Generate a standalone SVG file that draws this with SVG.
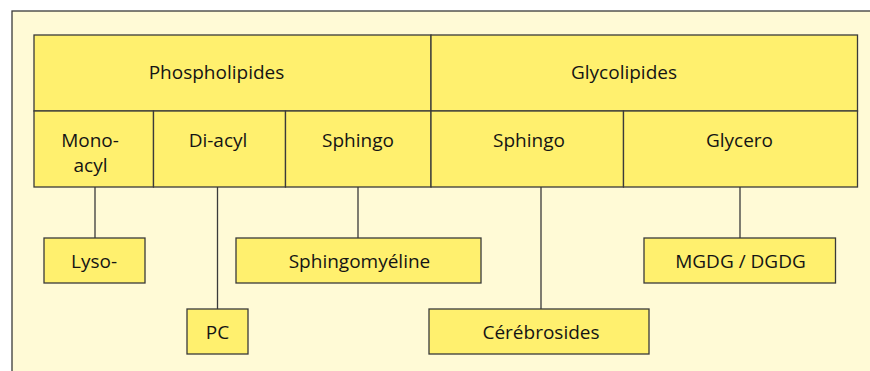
<svg xmlns="http://www.w3.org/2000/svg" width="870" height="371" viewBox="0 0 870 371">
  <style>
    .box { fill: #FFF06E; stroke: #3A3A3A; stroke-width: 1.3; }
    .lbl { font-family: "Open Sans", "Liberation Sans", sans-serif; font-size: 19px; fill: #141414; text-anchor: middle; }
    .link { stroke: #3A3A3A; stroke-width: 1.3; fill: none; }
  </style>
  <!-- panel background -->
  <rect x="0" y="0" width="870" height="371" fill="#FFFFFF"/>
  <rect x="12" y="11" width="870" height="380" fill="#FFFAD6" stroke="#3A3A3A" stroke-width="1.3"/>

  <!-- connectors -->
  <g id="connectors">
    <line class="link" x1="95" y1="187" x2="95" y2="238"/>
    <line class="link" x1="217.5" y1="187" x2="217.5" y2="309"/>
    <line class="link" x1="358" y1="187" x2="358" y2="238"/>
    <line class="link" x1="541" y1="187" x2="541" y2="309"/>
    <line class="link" x1="740" y1="187" x2="740" y2="238"/>
  </g>

  <!-- classification table -->
  <g id="phospholipides">
    <rect class="box" x="34" y="35" width="397" height="76"/>
    <text class="lbl" x="216.5" y="79">Phospholipides</text>
  </g>
  <g id="glycolipides">
    <rect class="box" x="431" y="35" width="426.5" height="76"/>
    <text class="lbl" x="624" y="79">Glycolipides</text>
  </g>
  <g id="mono-acyl">
    <rect class="box" x="34" y="111" width="119.5" height="76"/>
    <text class="lbl" x="90" y="147">Mono-</text>
    <text class="lbl" x="90.5" y="172">acyl</text>
  </g>
  <g id="di-acyl">
    <rect class="box" x="153.5" y="111" width="132" height="76"/>
    <text class="lbl" x="218" y="147">Di-acyl</text>
  </g>
  <g id="sphingo-phospho">
    <rect class="box" x="285.5" y="111" width="145.5" height="76"/>
    <text class="lbl" x="358" y="147">Sphingo</text>
  </g>
  <g id="sphingo-glyco">
    <rect class="box" x="431" y="111" width="192.5" height="76"/>
    <text class="lbl" x="529" y="147">Sphingo</text>
  </g>
  <g id="glycero">
    <rect class="box" x="623.5" y="111" width="234" height="76"/>
    <text class="lbl" x="739.5" y="147">Glycero</text>
  </g>

  <!-- examples -->
  <g id="lyso">
    <rect class="box" x="44" y="238" width="101" height="45"/>
    <text class="lbl" x="94" y="268">Lyso-</text>
  </g>
  <g id="pc">
    <rect class="box" x="187" y="309" width="61" height="45"/>
    <text class="lbl" x="217.5" y="339">PC</text>
  </g>
  <g id="sphingomyeline">
    <rect class="box" x="236" y="238" width="245" height="45"/>
    <text class="lbl" x="359.5" y="268">Sphingomyéline</text>
  </g>
  <g id="cerebrosides">
    <rect class="box" x="429" y="309" width="220" height="45"/>
    <text class="lbl" x="541" y="339">Cérébrosides</text>
  </g>
  <g id="mgdg-dgdg">
    <rect class="box" x="644" y="238" width="191.5" height="45"/>
    <text class="lbl" x="740.5" y="268">MGDG / DGDG</text>
  </g>
</svg>
